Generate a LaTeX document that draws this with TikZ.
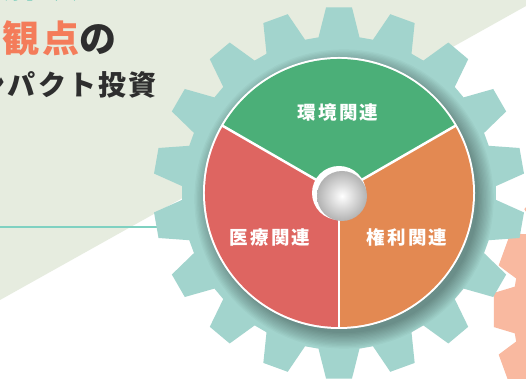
\documentclass[tikz,border=0pt]{standalone}
\usepackage{fontspec}
\newfontfamily\jp{Noto Sans CJK JP}
\newfontfamily\jpsp{Noto Sans CJK JP}[LetterSpace=12]
\newfontfamily\jpttl{Noto Sans CJK JP}[LetterSpace=8]
\definecolor{bgl}{HTML}{E6ECDF}
\definecolor{gteal}{HTML}{A2D4CD}
\definecolor{salm}{HTML}{F9B9A0}
\definecolor{pgreen}{HTML}{4BAF78}
\definecolor{pred}{HTML}{DE6561}
\definecolor{porange}{HTML}{E38952}
\definecolor{lineteal}{HTML}{7FD1C1}
\definecolor{ttlorange}{HTML}{F47C5A}
\definecolor{ttldark}{HTML}{2E2E2E}
\definecolor{ttlteal}{HTML}{22B5A0}
\tikzset{
  pielabel/.style={text=white, inner sep=0pt, font=\jpsp\bfseries\fontsize{18.5}{18.5}\selectfont},
  bigtitle/.style={inner sep=0pt, font=\jpttl\bfseries\fontsize{37}{37}\selectfont},
  subtitle/.style={inner sep=0pt, text=ttldark, font=\jpttl\bfseries\fontsize{28}{28}\selectfont},
  divider/.style={white, line width=2.5pt},
}
\begin{document}
\begin{tikzpicture}[x=1pt, y=1pt]
\useasboundingbox (0,0) rectangle (526,379);
\clip (0,0) rectangle (526,379);
% background
\fill[white] (0,0) rectangle (526,379);
\fill[bgl] (0,79) -- (526,373) -- (526,379) -- (0,379) -- cycle;
% titles
\node[bigtitle, text=ttlteal, anchor=base east] (t1) at (120,381.5) {社会課題解決に};
\node[bigtitle, text=ttldark, anchor=base east] (t2) at (117,326.5) {\textcolor{ttlorange}{の観点}の};
\node[subtitle, anchor=base east] (t3) at (157,283) {インパクト投資};
% teal rule
\coordinate (lstart) at (0,152);
\coordinate (lend) at (220,152);
\draw[lineteal, line width=1.6pt] (lstart) -- (lend);
% salmon gear (right)
\begin{scope}[shift={(671,69)}]
\fill[salm] (180-8.5:158) \foreach \k in {0,...,17} {
  -- ({180+20*\k-8.5}:158) -- ({180+20*\k-5.5}:178) -- ({180+20*\k+5.5}:178) -- ({180+20*\k+8.5}:158) } -- cycle;
\end{scope}
% teal gear
\begin{scope}[shift={(339,186)}]
\fill[gteal] (90-7.5:157) \foreach \k in {0,...,17} {
  -- ({90+20*\k-7.5}:157) -- ({90+20*\k-4}:186) -- ({90+20*\k+4}:186) -- ({90+20*\k+7.5}:157) } -- cycle;
% soft shadow of the wheel
\foreach \i in {0,...,12} {
  \fill[black, opacity=0.028] (5,-6) circle ({134+1.3*\i});
}
% wheel
\fill[white] (0,0) circle (136);
\fill[pgreen] (0,0) -- (30:134) arc[start angle=30, end angle=150, radius=134] -- cycle;
\fill[pred] (0,0) -- (150:134) arc[start angle=150, end angle=270, radius=134] -- cycle;
\fill[porange] (0,0) -- (270:134) arc[start angle=270, end angle=390, radius=134] -- cycle;
\coordinate (c) at (0,0);
\coordinate (e1) at (30:135);
\coordinate (e2) at (150:135);
\coordinate (e3) at (270:135);
\draw[divider] (c) -- (e1);
\draw[divider] (c) -- (e2);
\draw[divider] (c) -- (e3);
% hub
\fill[white] (0,0) circle (27);
\shade[inner color=white, outer color=black!30] (3,-3) circle (25);
\end{scope}
% labels
\node[pielabel] (env) at (338,266) {環境関連};
\node[pielabel] (med) at (270,142) {医療関連};
\node[pielabel] (rig) at (407,142) {権利関連};
\end{tikzpicture}
\end{document}
